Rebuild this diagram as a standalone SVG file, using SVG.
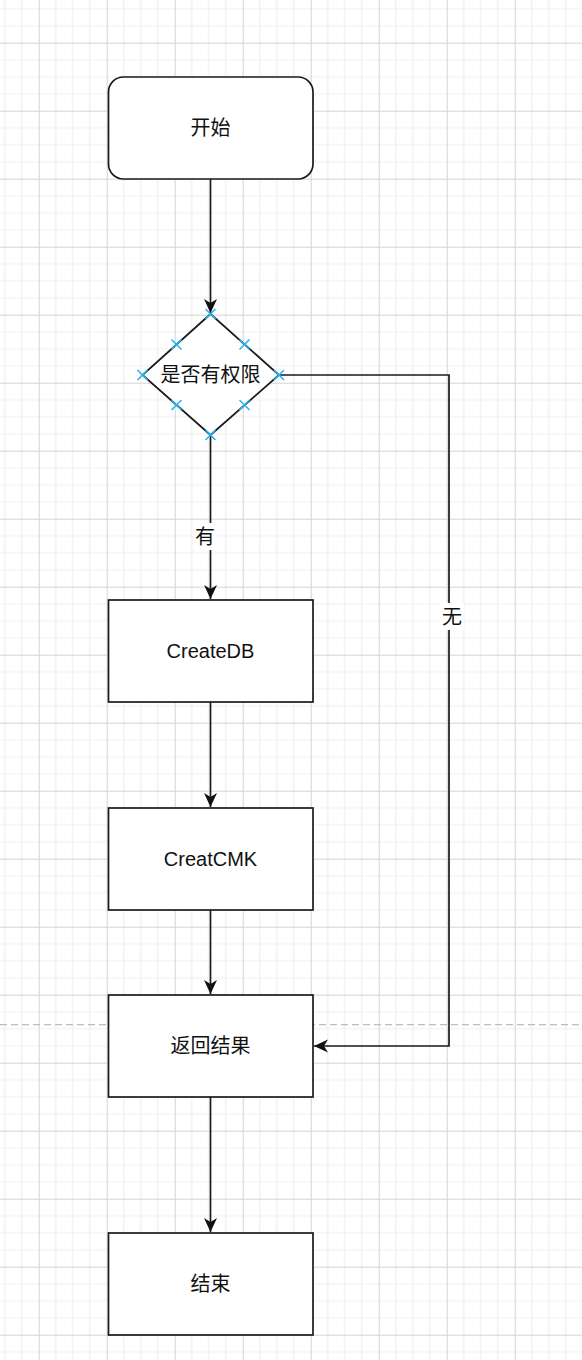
<svg xmlns="http://www.w3.org/2000/svg" width="582" height="1360" viewBox="0 0 582 1360">
<style>
.node{fill:#fff;stroke:#1a1a1a;stroke-width:1.7}
.edge{fill:none;stroke:#1a1a1a;stroke-width:1.7}
.lbl{font-family:"Liberation Sans","Noto Sans CJK SC",sans-serif;font-size:20px;fill:#111;text-anchor:middle;dominant-baseline:central}
.pt{stroke:#29b6f2;stroke-width:1.6;fill:none}
</style>
<defs>
<pattern id="grid" x="38.7" y="42.7" width="68" height="68" patternUnits="userSpaceOnUse">
<path d="M17,0V68M34,0V68M51,0V68M0,17H68M0,34H68M0,51H68" stroke="#efefef" stroke-width="1.2" fill="none"/>
<path d="M0.5,0V68M0,0.5H68" stroke="#d4d4d4" stroke-width="1.1" fill="none"/>
</pattern>
<marker id="arr" markerUnits="userSpaceOnUse" markerWidth="18" markerHeight="18" viewBox="-16 -9 18 18" refX="0" refY="0" orient="auto">
<path d="M0,0L-14,-6.5L-10,0L-14,6.5Z" fill="#111"/>
</marker>
</defs>
<rect width="582" height="1360" fill="#fff"/>
<rect width="582" height="1360" fill="url(#grid)"/>
<line x1="0" y1="1024.7" x2="582" y2="1024.7" stroke="#bdbdbd" stroke-width="1.3" stroke-dasharray="7,4"/>
<g id="connectors">
<path class="edge" d="M210.5,179V313" marker-end="url(#arr)"/>
<path class="edge" d="M210.5,435V599" marker-end="url(#arr)"/>
<path class="edge" d="M279,375H449V1046H314" marker-end="url(#arr)"/>
<path class="edge" d="M210.5,702V807" marker-end="url(#arr)"/>
<path class="edge" d="M210.5,910V994" marker-end="url(#arr)"/>
<path class="edge" d="M210.5,1097V1232" marker-end="url(#arr)"/>
<rect x="193" y="523" width="24" height="27" fill="#fff"/>
<text class="lbl" x="205" y="537">有</text>
<rect x="440" y="603" width="24" height="27" fill="#fff"/>
<text class="lbl" x="452" y="617">无</text>
</g>
<g id="start">
<rect class="node" x="108.5" y="77" width="204.5" height="102" rx="15"/>
<text class="lbl" x="210.5" y="128">开始</text>
</g>
<g id="decision">
<path class="node" d="M210.5,314L279,375L210.5,435L142.5,375Z"/>
<text class="lbl" x="210.5" y="375">是否有权限</text>
<path class="pt" d="M205.5,309l10,10m0,-10l-10,10M205.5,430l10,10m0,-10l-10,10M137.5,370l10,10m0,-10l-10,10M274,370l10,10m0,-10l-10,10M171.5,339.5l10,10m0,-10l-10,10M239.5,339.5l10,10m0,-10l-10,10M171.5,400l10,10m0,-10l-10,10M239.5,400l10,10m0,-10l-10,10"/>
</g>
<g id="createdb">
<rect class="node" x="108.5" y="600" width="204.5" height="102"/>
<text class="lbl" x="210.5" y="651">CreateDB</text>
</g>
<g id="creatcmk">
<rect class="node" x="108.5" y="808" width="204.5" height="102"/>
<text class="lbl" x="210.5" y="859">CreatCMK</text>
</g>
<g id="result">
<rect class="node" x="108.5" y="995" width="204.5" height="102"/>
<text class="lbl" x="210.5" y="1046">返回结果</text>
</g>
<g id="end">
<rect class="node" x="108.5" y="1233" width="204.5" height="102"/>
<text class="lbl" x="210.5" y="1284">结束</text>
</g>
</svg>
